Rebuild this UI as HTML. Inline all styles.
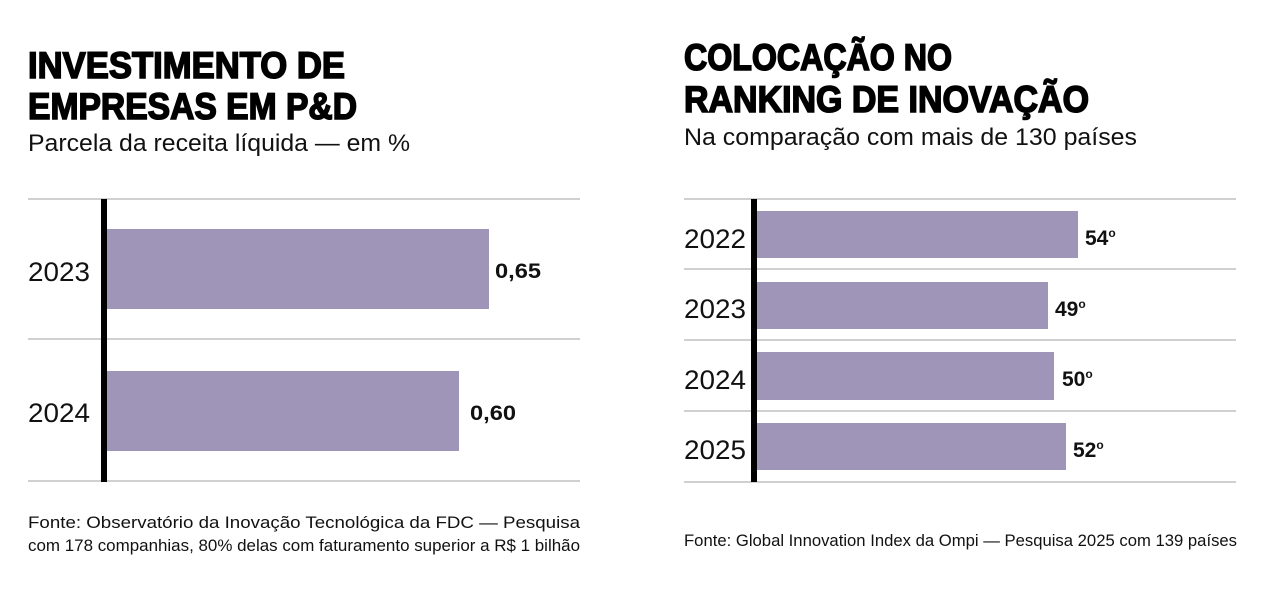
<!DOCTYPE html>
<html><head><meta charset="utf-8"><style>html,body{margin:0;padding:0;background:#fff}</style></head>
<body>
<svg width="1272" height="586" viewBox="0 0 1272 586" xmlns="http://www.w3.org/2000/svg" font-family="Liberation Sans, sans-serif">
<rect width="1272" height="586" fill="#fff"/>
<g font-weight="bold" font-size="37" fill="#000" stroke="#000" stroke-width="1.6">
<text x="28" y="78" textLength="317" lengthAdjust="spacingAndGlyphs">INVESTIMENTO DE</text>
<text x="28" y="119" textLength="329" lengthAdjust="spacingAndGlyphs">EMPRESAS EM P&amp;D</text>
<text x="684" y="70" textLength="268" lengthAdjust="spacingAndGlyphs">COLOCAÇÃO NO</text>
<text x="684" y="112" textLength="405" lengthAdjust="spacingAndGlyphs">RANKING DE INOVAÇÃO</text>
</g>
<g font-size="24" fill="#111">
<text x="28" y="151" textLength="382" lengthAdjust="spacingAndGlyphs">Parcela da receita líquida — em %</text>
<text x="684" y="145" textLength="453" lengthAdjust="spacingAndGlyphs">Na comparação com mais de 130 países</text>
</g>
<g stroke="#d0d0d0" stroke-width="2">
<line x1="28" y1="199" x2="580" y2="199"/><line x1="28" y1="339" x2="580" y2="339"/><line x1="28" y1="481" x2="580" y2="481"/>
<line x1="684" y1="199" x2="1236" y2="199"/><line x1="684" y1="269" x2="1236" y2="269"/><line x1="684" y1="340" x2="1236" y2="340"/><line x1="684" y1="411" x2="1236" y2="411"/><line x1="684" y1="482" x2="1236" y2="482"/>
</g>
<g fill="#9f95b8">
<rect x="107" y="229" width="382" height="80"/>
<rect x="107" y="371" width="352" height="80"/>
<rect x="757" y="211" width="321" height="47"/>
<rect x="757" y="282" width="291" height="47"/>
<rect x="757" y="352" width="297" height="48"/>
<rect x="757" y="423" width="309" height="47"/>
</g>
<rect x="101" y="199" width="6" height="283" fill="#000"/>
<rect x="751" y="199" width="6" height="283" fill="#000"/>
<g font-size="27" fill="#111">
<text x="28" y="281" textLength="62" lengthAdjust="spacingAndGlyphs">2023</text>
<text x="28" y="422" textLength="62" lengthAdjust="spacingAndGlyphs">2024</text>
<text x="684" y="248" textLength="62" lengthAdjust="spacingAndGlyphs">2022</text>
<text x="684" y="318" textLength="62" lengthAdjust="spacingAndGlyphs">2023</text>
<text x="684" y="389" textLength="62" lengthAdjust="spacingAndGlyphs">2024</text>
<text x="684" y="459" textLength="62" lengthAdjust="spacingAndGlyphs">2025</text>
</g>
<g font-size="21" font-weight="bold" fill="#111">
<text x="495" y="278" textLength="46" lengthAdjust="spacingAndGlyphs">0,65</text>
<text x="470" y="420" textLength="46" lengthAdjust="spacingAndGlyphs">0,60</text>
<text x="1085" y="245">54<tspan font-size="12" dy="-8">o</tspan></text>
<text x="1055" y="316">49<tspan font-size="12" dy="-8">o</tspan></text>
<text x="1062" y="386">50<tspan font-size="12" dy="-8">o</tspan></text>
<text x="1073" y="457">52<tspan font-size="12" dy="-8">o</tspan></text>
</g>
<g font-size="17" fill="#111">
<text x="28" y="528" textLength="552" lengthAdjust="spacingAndGlyphs">Fonte: Observatório da Inovação Tecnológica da FDC — Pesquisa</text>
<text x="28" y="551" textLength="552" lengthAdjust="spacingAndGlyphs">com 178 companhias, 80% delas com faturamento superior a R$ 1 bilhão</text>
<text x="684" y="546" textLength="553" lengthAdjust="spacingAndGlyphs">Fonte:  Global Innovation Index da Ompi — Pesquisa 2025 com 139 países</text>
</g>
</svg>
</body></html>
